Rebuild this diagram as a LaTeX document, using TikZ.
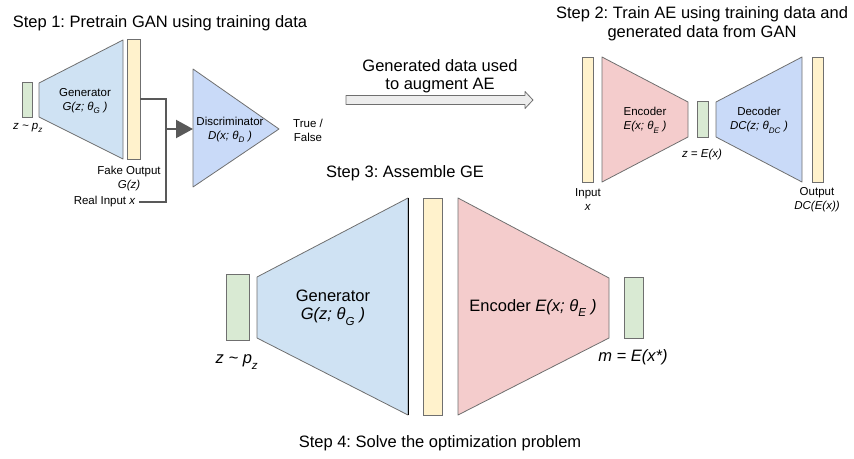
\documentclass[tikz,border=0pt]{standalone}
\usepackage{fontspec}
\setmainfont{Liberation Sans}
\usetikzlibrary{arrows.meta}
\frenchspacing

\definecolor{codegreen}{HTML}{D9EAD3}
\definecolor{genblue}{HTML}{CFE2F3}
\definecolor{discblue}{HTML}{C9DAF8}
\definecolor{encpink}{HTML}{F4CCCC}
\definecolor{baryellow}{HTML}{FFF2CC}
\definecolor{edgegray}{HTML}{6F6F6F}
\definecolor{wiregray}{HTML}{595959}

\tikzset{
  bar/.style={draw=edgegray, fill=baryellow, inner sep=0pt, line width=0.8pt},
  code/.style={draw=edgegray, fill=codegreen, inner sep=0pt, line width=0.8pt},
  net/.style={draw=edgegray, line width=0.8pt, line join=round},
  wire/.style={draw=wiregray, line width=2.1pt},
  small/.style={font=\fontsize{11.5}{14}\selectfont, align=center},
  big/.style={font=\fontsize{16.5}{18.5}\selectfont, align=center}
}
\newcommand{\lowsub}[1]{\raisebox{-0.3ex}{\textsubscript{#1}}}

\begin{document}
\begin{tikzpicture}[x=1pt, y=-1pt]
    \useasboundingbox (0,0) rectangle (854,458);

    % step 1: GAN
    \node [big] (title1) at (160,23) {Step 1: Pretrain GAN using training data};
    \node [code, minimum width=10, minimum height=35] (z1) at (27,99.5) {};
    \draw [net, fill=genblue] (39,83) -- (123,40) -- (123,159) -- (39,117) -- cycle;
    \node [bar, minimum width=13, minimum height=120] (out1) at (133.5,99) {};
    \draw [net, fill=discblue] (193,69) -- (279,129) -- (193,187) -- cycle;
    \node [small] (gen1) at (85,101) {Generator\\\textit{G(z; θ\lowsub{G} )}};
    \node [small] (zlab1) at (28,128) {\textit{z \textasciitilde{} p\lowsub{z}}};
    \node [small] (fake) at (129,178.5) {Fake Output\\\textit{G(z)}};
    \node [small, anchor=east] (real) at (139,202) {Real Input \textit{x}};
    \node [small] (disc) at (230,130) {Discriminator\\\textit{D(x; θ\lowsub{D} )}};
    \node [small] (truth) at (308,130) {True /\\False};
    \coordinate (join) at (166,129);
    \coordinate (discin) at (193,129);
    \draw [wire] (out1.east) -| (join);
    \draw [wire] (real.east) -| (join);
    \draw [wire, -{Triangle[length=17pt, width=18pt]}] (join) -- (discin);

    % arrow between steps
    \node [big] (augtext) at (440,76) {Generated data used\\to augment AE};
    \draw [net, fill=black!7] (346,95.5) -- (525,95.5) -- (525,91.5) -- (533,100)
        -- (525,108.5) -- (525,104.5) -- (346,104.5) -- cycle;

    % step 2: AE
    \node [big] (title2) at (702,23.5) {Step 2: Train AE using training data and\\generated data from GAN};
    \node [bar, minimum width=11, minimum height=125] (in2) at (587.5,119.5) {};
    \draw [net, fill=encpink] (602,57) -- (688,102) -- (688,137) -- (602,182) -- cycle;
    \node [code, minimum width=11, minimum height=36] (z2) at (702.5,119) {};
    \draw [net, fill=discblue] (716,102) -- (802,57) -- (802,182) -- (716,137) -- cycle;
    \node [bar, minimum width=11, minimum height=125] (out2) at (817.5,119.5) {};
    \node [small] (enc2) at (645,120.5) {Encoder\\\textit{E(x; θ\lowsub{E} )}};
    \node [small] (dec2) at (759,120.5) {Decoder\\\textit{DC(z; θ\lowsub{DC} )}};
    \node [small] (zlab2) at (702,155) {\textit{z = E(x)}};
    \node [small] (inlab) at (588,199.5) {Input\\\textit{x}};
    \node [small] (outlab) at (817,199.5) {Output\\\textit{DC(E(x))}};

    % step 3: GE
    \node [big] (title3) at (405,173) {Step 3: Assemble GE};
    \node [code, minimum width=23, minimum height=66] (z3) at (237.5,307) {};
    \draw [net, fill=genblue] (257,277) -- (408,198) -- (408,415) -- (257,338) -- cycle;
    \draw [black, line width=0.8pt] (408,198) -- (408,415);
    \node [bar, minimum width=19, minimum height=217] (bar3) at (432.5,306.5) {};
    \draw [net, fill=encpink] (458,198) -- (609,278) -- (609,338) -- (458,415) -- cycle;
    \node [code, minimum width=19, minimum height=61] (m3) at (633.5,307.5) {};
    \node [big] (gen3) at (333,307.5) {Generator\\\textit{G(z; θ\lowsub{G} )}};
    \node [big] (enc3) at (533,308) {Encoder \textit{E(x; θ\lowsub{E} )}};
    \node [big] (zlab3) at (237,362) {\textit{z \textasciitilde{} p\lowsub{z}}};
    \node [big] (mlab) at (633,357) {\textit{m = E(x*)}};

    % step 4
    \node [big] (title4) at (440,443) {Step 4: Solve the optimization problem};
\end{tikzpicture}
\end{document}
